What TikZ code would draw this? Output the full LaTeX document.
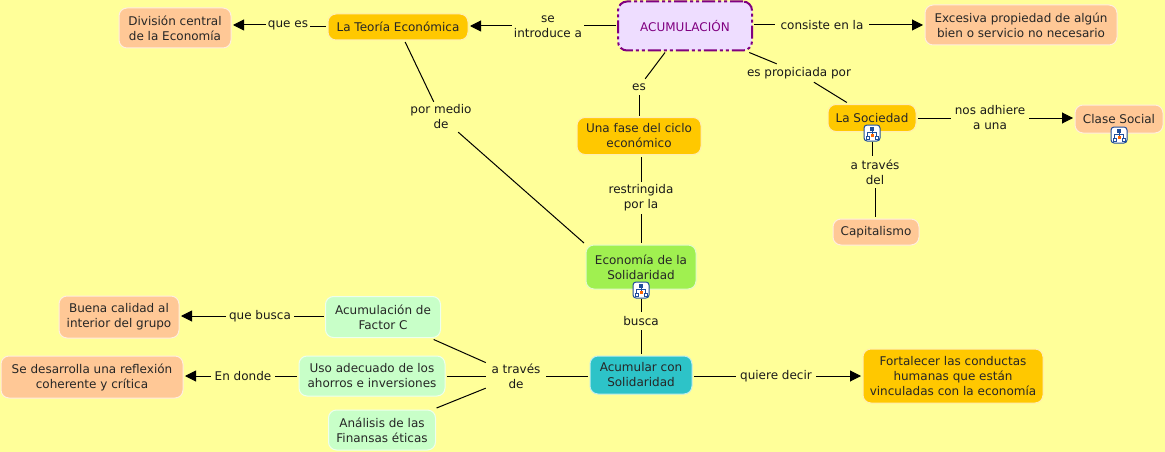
\documentclass[tikz,border=0pt]{standalone}
\usepackage{fontspec}
\setmainfont{DejaVu Sans}
\usetikzlibrary{arrows.meta}
\definecolor{bgc}{HTML}{FFFF99}
\definecolor{peach}{HTML}{FFC896}
\definecolor{amber}{HTML}{FFC800}
\definecolor{lime}{HTML}{A0F050}
\definecolor{teal2}{HTML}{2DC3C8}
\definecolor{mint}{HTML}{C8FFC8}
\definecolor{lila}{HTML}{EEDDFF}
\definecolor{purp}{HTML}{800080}
\definecolor{iconb}{HTML}{1F4E9A}
\tikzset{
  concept/.style={rectangle,rounded corners=8pt,draw=white!70!#1,line width=1pt,fill=#1,inner sep=0pt,
    align=center,font=\fontsize{12pt}{15pt}\selectfont,text=black!85,outer sep=2pt},
  linklbl/.style={rectangle,inner sep=0pt,align=center,font=\fontsize{12pt}{15pt}\selectfont,text=black!90},
  conn/.style={line width=1pt,black},
  arr/.style={conn,-{Triangle[length=11pt,width=11pt]}},
  iconbox/.style={rectangle,rounded corners=3pt,draw=iconb,line width=1pt,fill=white,minimum size=16pt,inner sep=0pt}
}
\newcommand{\cmapicon}[2]{%
  \node[iconbox] (#1) at (#2) {};
  \begin{scope}[shift={(#1.center)}]
    \draw[iconb,line width=.7pt] (-4.5,3.5) -- (-4.5,-1) -- (4.5,-1) -- (4.5,3.5) (0,-3) -- (0,1);
    \fill[iconb] (-2,-6) rectangle (2,-2.5);
    \filldraw[fill=white,draw=iconb,line width=.7pt] (-6,3) rectangle (-3,6);
    \filldraw[fill=white,draw=iconb,line width=.7pt] (3,3) rectangle (6,6);
    \fill[orange!80!red] (-1.5,1) rectangle (1.5,4);
  \end{scope}}
\begin{document}
\begin{tikzpicture}[x=1pt,y=-1pt]
\fill[bgc] (0,0) rectangle (1165,452);
\useasboundingbox (0,0) rectangle (1165,452);
% concepts
\node[concept=lila,draw=purp,line width=2pt,rounded corners=9pt,dash pattern=on 13pt off 3pt on 3pt off 3pt on 3pt off 3pt,text=purp,minimum width=134pt,minimum height=49pt,outer sep=2pt] (acum) at (685,26) {ACUMULACIÓN};
\node[concept=amber,minimum width=140pt,minimum height=26pt] (teoria) at (398,27) {La Teoría Económica};
\node[concept=peach,minimum width=112pt,minimum height=40pt] (division) at (175,28) {División central\\de la Economía};
\node[concept=peach,minimum width=192pt,minimum height=40pt] (excesiva) at (1021,25) {Excesiva propiedad de algún\\bien o servicio no necesario};
\node[concept=amber,minimum width=124pt,minimum height=37pt] (fase) at (639,136) {Una fase del ciclo\\económico};
\node[concept=amber,minimum width=88pt,minimum height=27pt] (sociedad) at (872,118) {La Sociedad};
\node[concept=peach,minimum width=88pt,minimum height=28pt] (clase) at (1119,119) {Clase Social};
\node[concept=peach,minimum width=86pt,minimum height=26pt] (capital) at (876,232) {Capitalismo};
\node[concept=lime,minimum width=110pt,minimum height=44pt] (eco) at (641,267) {Economía de la\\Solidaridad};
\node[concept=teal2,minimum width=102pt,minimum height=38pt] (acumular) at (641,375) {Acumular con\\Solidaridad};
\node[concept=amber,minimum width=180pt,minimum height=54pt] (fortalecer) at (953,376) {Fortalecer las conductas\\humanas que están\\vinculadas con la economía};
\node[concept=mint,minimum width=115pt,minimum height=41pt] (factor) at (383,317) {Acumulación de\\Factor C};
\node[concept=mint,minimum width=146pt,minimum height=40pt] (uso) at (372,376) {Uso adecuado de los\\ahorros e inversiones};
\node[concept=mint,minimum width=107pt,minimum height=40pt] (finansas) at (382,430) {Análisis de las\\Finansas éticas};
\node[concept=peach,minimum width=120pt,minimum height=42pt] (buena) at (119,317) {Buena calidad al\\interior del grupo};
\node[concept=peach,minimum width=182pt,minimum height=42pt] (desarrolla) at (92,377) {Se desarrolla una reflexión\\coherente y crítica};
% link labels
\node[linklbl,minimum width=72pt,minimum height=30pt] (lintro) at (548,27) {se\\introduce a};
\node[linklbl,minimum width=44pt,minimum height=16pt] (lquees) at (288,25) {que es};
\node[linklbl,minimum width=94pt,minimum height=16pt] (lconsiste) at (822,25) {consiste en la};
\node[linklbl,minimum width=18pt,minimum height=16pt] (les) at (639,87) {es};
\node[linklbl,minimum width=108pt,minimum height=18pt] (lprop) at (799,73) {es propiciada por};
\node[linklbl,minimum width=66pt,minimum height=30pt] (lmedio) at (441,117) {por medio\\de};
\node[linklbl,minimum width=68pt,minimum height=32pt] (lrestr) at (641,198) {restringida\\por la};
\node[linklbl,minimum width=40pt,minimum height=18pt] (lbusca) at (641,321) {busca};
\node[linklbl,minimum width=80pt,minimum height=16pt] (lquiere) at (776,376) {quiere decir};
\node[linklbl,minimum width=78pt,minimum height=30pt] (ladh) at (990,118) {nos adhiere\\a una};
\node[linklbl,minimum width=52pt,minimum height=32pt] (ldel) at (875,172) {a través\\del};
\node[linklbl,minimum width=60pt,minimum height=30pt] (ltraves) at (516,376) {a través\\de};
\node[linklbl,minimum width=68pt,minimum height=16pt] (lqb) at (260,316) {que busca};
\node[linklbl,minimum width=64pt,minimum height=16pt] (lend) at (243,376) {En donde};
% resource icons
\cmapicon{icona}{641,290}
\cmapicon{iconc}{872,133}
\cmapicon{icond}{1119,135}
% connectors
\draw[conn] (acum.west) -- (acum.west -| lintro.east);
\draw[arr] (acum.west -| lintro.west) -- (acum.west -| teoria.east);
\draw[conn] (lquees.east |- teoria.west) -- (teoria.west);
\draw[arr] (lquees.west) -- (lquees.west -| division.east);
\draw[conn] (acum.east |- lconsiste) -- (lconsiste.west);
\draw[arr] (lconsiste.east) -- (lconsiste.east -| excesiva.west);
\draw[conn] (acum) -- (les);
\draw[conn] (les.south) -- (les.south |- fase.north);
\draw[conn] (acum) -- (lprop);
\draw[conn] (lprop) -- (sociedad);
\draw[conn] (teoria) -- (lmedio);
\draw[conn] (lmedio) -- (eco.north west);
\draw[conn] (lrestr.north) -- (lrestr.north |- fase.south);
\draw[conn] (lrestr.south) -- (lrestr.south |- eco.north);
\draw[conn] (icona.south) -- (lbusca.north);
\draw[conn] (lbusca.south) -- (lbusca.south |- acumular.north);
\draw[conn] (acumular.east |- lquiere) -- (lquiere.west);
\draw[arr] (lquiere.east) -- (lquiere.east -| fortalecer.west);
\draw[conn] (sociedad.east) -- (sociedad.east -| ladh.west);
\draw[arr] (sociedad.east -| ladh.east) -- (sociedad.east -| clase.west);
\draw[conn] (iconc.south) -- (iconc.south |- ldel.north);
\draw[conn] (ldel.south) -- (ldel.south |- capital.north);
\draw[conn] (acumular.west |- ltraves) -- (ltraves.east);
\draw[conn] (ltraves) -- (factor);
\draw[conn] (ltraves.west) -- (uso.east);
\draw[conn] (ltraves) -- (finansas);
\draw[conn] (factor.west |- lqb) -- (lqb.east);
\draw[arr] (lqb.west) -- (lqb.west -| buena.east);
\draw[conn] (uso.west) -- (lend.east);
\draw[arr] (lend.west) -- (lend.west -| desarrolla.east);
\end{tikzpicture}
\end{document}
